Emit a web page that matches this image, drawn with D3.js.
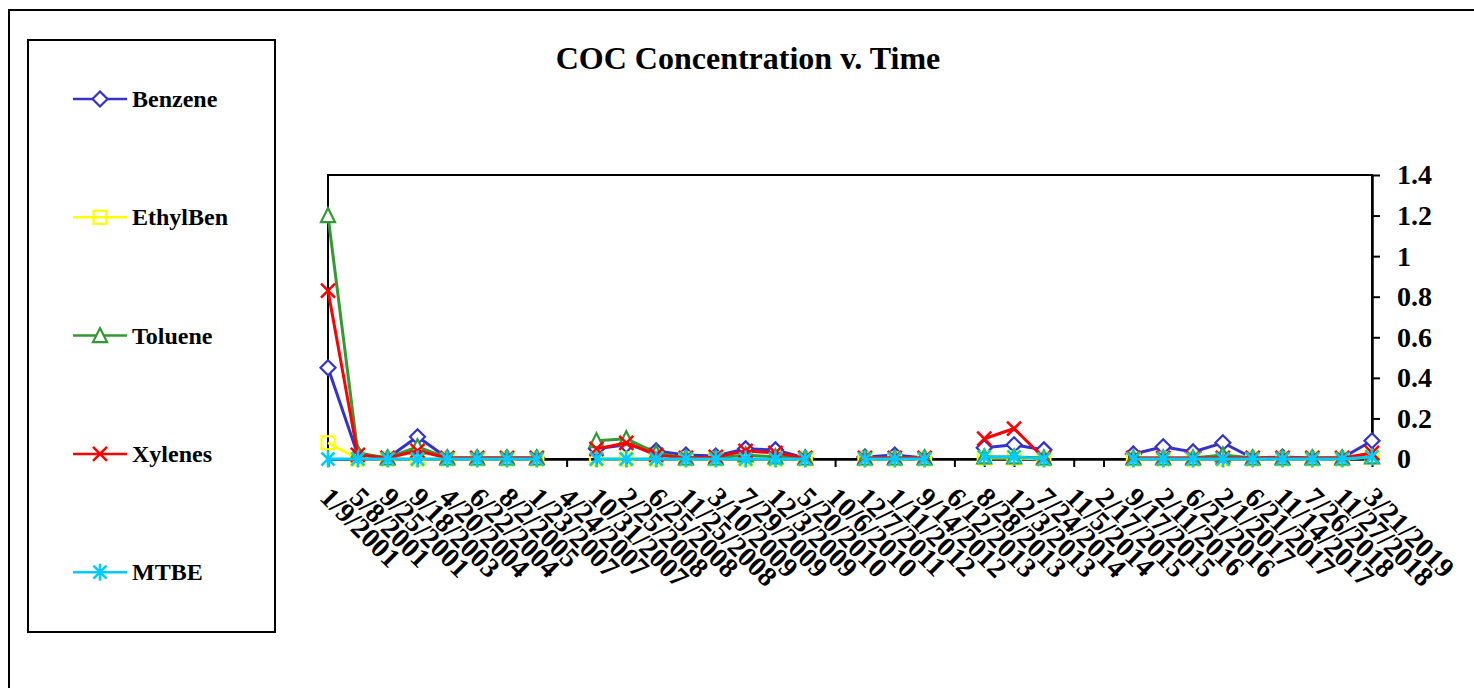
<!DOCTYPE html>
<html>
<head>
<meta charset="utf-8">
<script src="https://cdnjs.cloudflare.com/ajax/libs/d3/7.8.5/d3.min.js"></script>
<style>
  body { margin: 0; background: #fff; }
  text { font-family: "Liberation Serif", "Times New Roman", serif; font-weight: bold; fill: #000; }
</style>
</head>
<body>
<div id="chart"></div>
<script>
// sample dates (category axis)
var categories = ["1/9/2001", "5/8/2001", "9/25/2001", "9/18/2003", "4/20/2004", "6/22/2004",
  "8/2/2005", "1/23/2007", "4/24/2007", "10/31/2007", "2/25/2008", "6/25/2008",
  "11/25/2008", "3/10/2009", "7/29/2009", "12/3/2009", "5/20/2010", "10/6/2010",
  "12/7/2011", "1/11/2012", "9/14/2012", "6/12/2013", "8/28/2013", "12/3/2013",
  "7/24/2014", "11/5/2014", "2/17/2015", "9/17/2015", "2/11/2016", "6/21/2016",
  "2/1/2017", "6/21/2017", "11/14/2017", "7/26/2018", "11/27/2018", "3/21/2019"];

// concentrations, null = not sampled
var benzene = [0.45, 0.02, 0.005, 0.11, 0.005, 0.005, 0.005, 0.005, null, 0.05, 0.07, 0.04,
  0.02, 0.015, 0.05, 0.045, 0.005, null, 0.01, 0.02, 0.005, null, 0.055, 0.07,
  0.045, null, null, 0.025, 0.06, 0.035, 0.08, 0.005, 0.01, 0.005, 0.005, 0.09];
var ethylben = [0.08, 0, 0, 0, 0, 0, 0, 0, null, 0, 0, 0,
  0, 0, 0, 0, 0, null, 0, 0, 0, null, 0.005, 0.005,
  0, null, null, 0, 0, 0, 0, 0, 0, 0, 0, 0.01];
var toluene = [1.2, 0.03, 0.005, 0.06, 0.005, 0.005, 0.005, 0.005, null, 0.09, 0.1, 0.03,
  0.005, 0.005, 0.02, 0.01, 0.005, null, 0.005, 0.005, 0.005, null, 0.01, 0.01,
  0.005, null, null, 0.005, 0.005, 0.005, 0.02, 0.005, 0.005, 0.005, 0.005, 0.01];
var xylenes = [0.83, 0.02, 0.005, 0.04, 0.005, 0.005, 0.005, 0.005, null, 0.05, 0.08, 0.02,
  0.005, 0.01, 0.04, 0.03, 0.005, null, 0.005, 0.005, 0.005, null, 0.1, 0.15,
  0.005, null, null, 0.005, 0.005, 0.005, 0.005, 0.005, 0.005, 0.005, 0.005, 0.03];
var mtbe = [0, 0, 0, 0, 0, 0, 0, 0, null, 0, 0, 0,
  0, 0, 0, 0, 0, null, 0, 0, 0, null, 0.01, 0.01,
  0, null, null, 0, 0, 0, 0, 0, 0, 0, 0, 0.01];

var seriesNames = ["Benzene", "EthylBen", "Toluene", "Xylenes", "MTBE"];
var yTicks = [0, 0.2, 0.4, 0.6, 0.8, 1, 1.2, 1.4];

var width = 1474, height = 688;
var plot = {left: 328, right: 1372, top: 175, bottom: 459};

var series = [
  {name: seriesNames[0], values: benzene, color: "#3333cc", marker: "diamond"},
  {name: seriesNames[1], values: ethylben, color: "#ffff00", marker: "square"},
  {name: seriesNames[2], values: toluene, color: "#339933", marker: "triangle"},
  {name: seriesNames[3], values: xylenes, color: "#ff0000", marker: "cross"},
  {name: seriesNames[4], values: mtbe, color: "#00ccff", marker: "star"}
];

var svg = d3.select("#chart").append("svg")
    .attr("width", width)
    .attr("height", height);

// outer chart frame runs off the right/bottom edge
svg.append("rect")
    .attr("x", 9).attr("y", 10)
    .attr("width", 1490).attr("height", 700)
    .attr("fill", "none").attr("stroke", "#000").attr("stroke-width", 2);

svg.append("text")
    .attr("x", 748).attr("y", 69)
    .attr("text-anchor", "middle")
    .style("font-size", "32px")
    .text("COC Concentration v. Time");

var x = d3.scalePoint()
    .domain(categories)
    .range([plot.left, plot.right])
    .padding(0);

var y = d3.scaleLinear()
    .domain([0, 1.4])
    .range([plot.bottom, plot.top]);

// plot area border
svg.append("rect")
    .attr("x", plot.left).attr("y", plot.top)
    .attr("width", plot.right - plot.left).attr("height", plot.bottom - plot.top)
    .attr("fill", "none").attr("stroke", "#000").attr("stroke-width", 2);

var xAxis = d3.axisBottom(x).tickSize(8).tickSizeOuter(0);
var gx = svg.append("g")
    .attr("transform", "translate(0," + plot.bottom + ")")
    .call(xAxis);
gx.select(".domain").attr("stroke-width", 2.5);
gx.selectAll(".tick line").attr("stroke-width", 2);
gx.selectAll(".tick text")
    .attr("x", 0).attr("y", 0).attr("dy", 0)
    .attr("text-anchor", "start")
    .attr("transform", "translate(-10,40) rotate(45)")
    .style("font-size", "28px")
    .style("font-family", "'Liberation Serif', serif")
    .style("font-weight", "bold");

var yAxis = d3.axisRight(y).tickValues(yTicks).tickSize(8).tickSizeOuter(0).tickPadding(17)
    .tickFormat(function (d) { return String(d); });
var gy = svg.append("g")
    .attr("transform", "translate(" + plot.right + ",0)")
    .call(yAxis);
gy.select(".domain").attr("stroke-width", 2.5);
gy.selectAll(".tick line").attr("stroke-width", 2);
gy.selectAll(".tick text")
    .style("font-size", "28px")
    .style("font-family", "'Liberation Serif', serif")
    .style("font-weight", "bold");

function drawMarker(g, type, color) {
  if (type === "diamond") {
    g.append("path").attr("d", "M0,-7.5L7.5,0L0,7.5L-7.5,0Z")
      .attr("fill", "#fff").attr("stroke", color).attr("stroke-width", 2.2);
  } else if (type === "square") {
    g.append("rect").attr("x", -6.5).attr("y", -6.5).attr("width", 13).attr("height", 13)
      .attr("fill", "none").attr("stroke", color).attr("stroke-width", 2.2);
  } else if (type === "triangle") {
    g.append("path").attr("d", "M0,-7.5L7,6.5L-7,6.5Z")
      .attr("fill", "#fff").attr("stroke", color).attr("stroke-width", 2.2);
  } else if (type === "cross") {
    g.append("path").attr("d", "M-7,-7L7,7M-7,7L7,-7")
      .attr("stroke", color).attr("stroke-width", 2.5);
  } else {
    g.append("path").attr("d", "M-6.5,-6.5L6.5,6.5M-6.5,6.5L6.5,-6.5M0,-8.5L0,8.5")
      .attr("stroke", color).attr("stroke-width", 2.5);
  }
}

var line = d3.line()
    .defined(function (d) { return d.v !== null; })
    .x(function (d) { return x(d.c); })
    .y(function (d) { return y(d.v); });

series.forEach(function (s) {
  var pts = s.values.map(function (v, i) { return {c: categories[i], v: v}; });
  var g = svg.append("g");
  g.append("path")
      .datum(pts)
      .attr("d", line)
      .attr("fill", "none")
      .attr("stroke", s.color)
      .attr("stroke-width", 3);
  g.selectAll("g.mk")
      .data(pts.filter(function (d) { return d.v !== null; }))
      .enter().append("g")
      .attr("class", "mk")
      .attr("transform", function (d) { return "translate(" + x(d.c) + "," + y(d.v) + ")"; })
      .each(function () { drawMarker(d3.select(this), s.marker, s.color); });
});

// legend
var legend = svg.append("g");
legend.append("rect")
    .attr("x", 28).attr("y", 40)
    .attr("width", 247).attr("height", 592)
    .attr("fill", "#fff").attr("stroke", "#000").attr("stroke-width", 2);

series.forEach(function (s, i) {
  var ly = 99 + i * 118.3;
  var item = legend.append("g").attr("transform", "translate(0," + ly + ")");
  item.append("line")
      .attr("x1", 73).attr("x2", 127)
      .attr("stroke", s.color).attr("stroke-width", 2.5);
  var mk = item.append("g").attr("transform", "translate(100,0)");
  drawMarker(mk, s.marker, s.color);
  item.append("text")
      .attr("x", 132).attr("y", 8)
      .style("font-size", "24px")
      .text(s.name);
});
</script>
</body>
</html>
